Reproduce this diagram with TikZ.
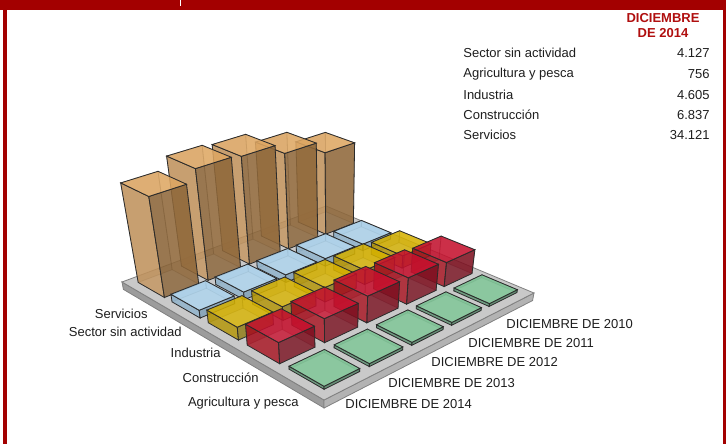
\documentclass[tikz,border=0pt]{standalone}
\usepackage{fontspec}
\setmainfont{Liberation Sans}
\definecolor{marco}{HTML}{A30000}
\definecolor{titulo}{HTML}{B00F0F}
\definecolor{texto}{HTML}{1E1E1E}
\definecolor{linea}{HTML}{2B2B2B}
\definecolor{losaT}{HTML}{C9C9C9}
\definecolor{losaL}{HTML}{9C9C9C}
\definecolor{losaR}{HTML}{B3B3B3}
\definecolor{orT}{HTML}{E0A863}
\definecolor{orL}{HTML}{C4955E}
\definecolor{orR}{HTML}{8A6336}
\definecolor{blT}{HTML}{AED6F0}
\definecolor{blL}{HTML}{8FB3CC}
\definecolor{blR}{HTML}{7C9FB8}
\definecolor{yeT}{HTML}{D9B400}
\definecolor{yeL}{HTML}{B39400}
\definecolor{yeR}{HTML}{8F7A10}
\definecolor{reT}{HTML}{C8102E}
\definecolor{reL}{HTML}{A8101E}
\definecolor{reR}{HTML}{7A1020}
\definecolor{grT}{HTML}{7CC795}
\definecolor{grL}{HTML}{5A9070}
\definecolor{grR}{HTML}{4F8063}
% corners of the floor slab (px), vertical vanishing point
\def\Lx{122}\def\Ly{282}
\def\Fx{324}\def\Fy{400}
\def\Rx{534}\def\Ry{293}
\def\Bx{326}\def\By{206}
\def\Vx{335}\def\Vy{1400}\def\hz{1200}
\def\mg{0.1}\def\ns{5.2}\def\gp{0.11}
\pgfmathsetmacro\hsx{((\Lx)-(\Fx)+(\Rx)-(\Bx))/100}
\pgfmathsetmacro\hsy{((\Ly)-(\Fy)+(\Ry)-(\By))/100}
\pgfmathsetmacro\dxa{((\Fx)-(\Rx))/100}
\pgfmathsetmacro\dya{((\Fy)-(\Ry))/100}
\pgfmathsetmacro\dxb{((\Bx)-(\Rx))/100}
\pgfmathsetmacro\dyb{((\By)-(\Ry))/100}
\pgfmathsetmacro\hden{(\dxa)*(\dyb)-(\dxb)*(\dya)}
\pgfmathsetmacro\cG{((\hsx)*(\dyb)-(\dxb)*(\hsy))/(\hden)}
\pgfmathsetmacro\cH{((\dxa)*(\hsy)-(\hsx)*(\dya))/(\hden)}
\pgfmathsetmacro\cA{\Fx-\Lx+(\cG)*\Fx}
\pgfmathsetmacro\cB{\Bx-\Lx+(\cH)*\Bx}
\pgfmathsetmacro\cD{\Fy-\Ly+(\cG)*\Fy}
\pgfmathsetmacro\cE{\By-\Ly+(\cH)*\By}
\newcommand{\pto}[3]{({sx(#1,#2,#3)},{sy(#1,#2,#3)})}
\newcommand{\caja}[4]{% sector, year, height, colour
  \pgfmathsetmacro\xa{#1+\gp}\pgfmathsetmacro\xb{#1+1-\gp}%
  \pgfmathsetmacro\ya{#2+\gp}\pgfmathsetmacro\yb{#2+1-\gp}%
  \filldraw[fill=#4R,fill opacity=.35,draw=linea,draw opacity=.35] \pto{\xa}{\ya}{0} -- \pto{\xa}{\yb}{0} -- \pto{\xa}{\yb}{#3} -- \pto{\xa}{\ya}{#3} -- cycle;
  \filldraw[fill=#4L,fill opacity=.35,draw=linea,draw opacity=.35] \pto{\xa}{\yb}{0} -- \pto{\xb}{\yb}{0} -- \pto{\xb}{\yb}{#3} -- \pto{\xa}{\yb}{#3} -- cycle;
  \filldraw[fill=#4L,fill opacity=.8,draw=linea] \pto{\xa}{\ya}{0} -- \pto{\xb}{\ya}{0} -- \pto{\xb}{\ya}{#3} -- \pto{\xa}{\ya}{#3} -- cycle;
  \filldraw[fill=#4R,fill opacity=.8,draw=linea] \pto{\xb}{\ya}{0} -- \pto{\xb}{\yb}{0} -- \pto{\xb}{\yb}{#3} -- \pto{\xb}{\ya}{#3} -- cycle;
  \filldraw[fill=#4T,fill opacity=.8,draw=linea] \pto{\xa}{\ya}{#3} -- \pto{\xb}{\ya}{#3} -- \pto{\xb}{\yb}{#3} -- \pto{\xa}{\yb}{#3} -- cycle;
}
\begin{document}
\begin{tikzpicture}[x=1pt,y=-1pt,line width=0.8pt,
  declare function={
    uu(\x)=((\x)+\mg)/\ns;
    ww(\x,\y,\z)=(\cG)*uu(\x)+(\cH)*uu(\y)+1-(\z)/\hz;
    sx(\x,\y,\z)=((\cA)*uu(\x)+(\cB)*uu(\y)+\Lx-(\z)/\hz*\Vx)/ww(\x,\y,\z);
    sy(\x,\y,\z)=((\cD)*uu(\x)+(\cE)*uu(\y)+\Ly-(\z)/\hz*\Vy)/ww(\x,\y,\z);
  }]
    \tikzstyle{every node}+=[inner sep=0pt, font=\fontsize{13}{15}\selectfont, text=texto]
    \tikzstyle{sector}=[anchor=east]
    \tikzstyle{serie}=[anchor=west]
    \useasboundingbox (0,0) rectangle (726,444);
    \fill [white] (0,0) rectangle (726,444);
    % frame
    \fill [marco] (0,0) rectangle (726,10);
    \fill [marco] (3.3,10) rectangle (6.7,444);
    \fill [marco] (722.7,10) rectangle (726,444);
    \draw [white, line width=1.4pt] (180.5,0) -- (180.5,6);
    % floor
    \filldraw [fill=losaL, draw=gray] \pto{-\mg}{-\mg}{0} -- \pto{5+\mg}{-\mg}{0} -- \pto{5+\mg}{-\mg}{-8} -- \pto{-\mg}{-\mg}{-8} -- cycle;
    \filldraw [fill=losaR, draw=gray] \pto{5+\mg}{-\mg}{0} -- \pto{5+\mg}{5+\mg}{0} -- \pto{5+\mg}{5+\mg}{-8} -- \pto{5+\mg}{-\mg}{-8} -- cycle;
    \filldraw [fill=losaT, draw=gray] \pto{-\mg}{-\mg}{0} -- \pto{5+\mg}{-\mg}{0} -- \pto{5+\mg}{5+\mg}{0} -- \pto{-\mg}{5+\mg}{0} -- cycle;
    % bars, back to front
    \foreach \j/\h in {4/85,3/97,2/107,1/109,0/98} {\caja{0}{\j}{\h}{or}}
    \foreach \j/\h in {4/7,3/8,2/8,1/8,0/8} {\caja{1}{\j}{\h}{bl}}
    \foreach \j/\h in {4/13,3/15,2/15,1/14,0/13} {\caja{2}{\j}{\h}{ye}}
    \foreach \j/\h in {4/25,3/27,2/27,1/24,0/21} {\caja{3}{\j}{\h}{re}}
    \foreach \j in {4,3,2,1,0} {\caja{4}{\j}{3}{gr}}
    % sector labels
    \node [sector] (serv) at (148,314) {Servicios};
    \node [sector] (ssa) at (182,332) {Sector sin actividad};
    \node [sector] (ind) at (221,353) {Industria};
    \node [sector] (cons) at (259,378) {Construcción};
    \node [sector] (agr) at (299,403) {Agricultura y pesca};
    % year labels
    \node [serie] (d14) at (345,404) {DICIEMBRE DE 2014};
    \node [serie] (d13) at (388,383) {DICIEMBRE DE 2013};
    \node [serie] (d12) at (431,362) {DICIEMBRE DE 2012};
    \node [serie] (d11) at (468,343) {DICIEMBRE DE 2011};
    \node [serie] (d10) at (506,324) {DICIEMBRE DE 2010};
    % table
    \node [align=center, text=titulo, font=\fontsize{13}{15}\selectfont\bfseries] (cab) at (663,26) {DICIEMBRE\\DE 2014};
    \node [serie] (t1) at (463,53) {Sector sin actividad};
    \node [serie] (t2) at (463,74) {Agricultura y pesca};
    \node [serie] (t3) at (463,95) {Industria};
    \node [serie] (t4) at (463,115) {Construcción};
    \node [serie] (t5) at (463,135) {Servicios};
    \node [sector] (v1) at (710,53) {4.127};
    \node [sector] (v2) at (710,74) {756};
    \node [sector] (v3) at (710,95) {4.605};
    \node [sector] (v4) at (710,115) {6.837};
    \node [sector] (v5) at (710,135) {34.121};
\end{tikzpicture}
\end{document}
